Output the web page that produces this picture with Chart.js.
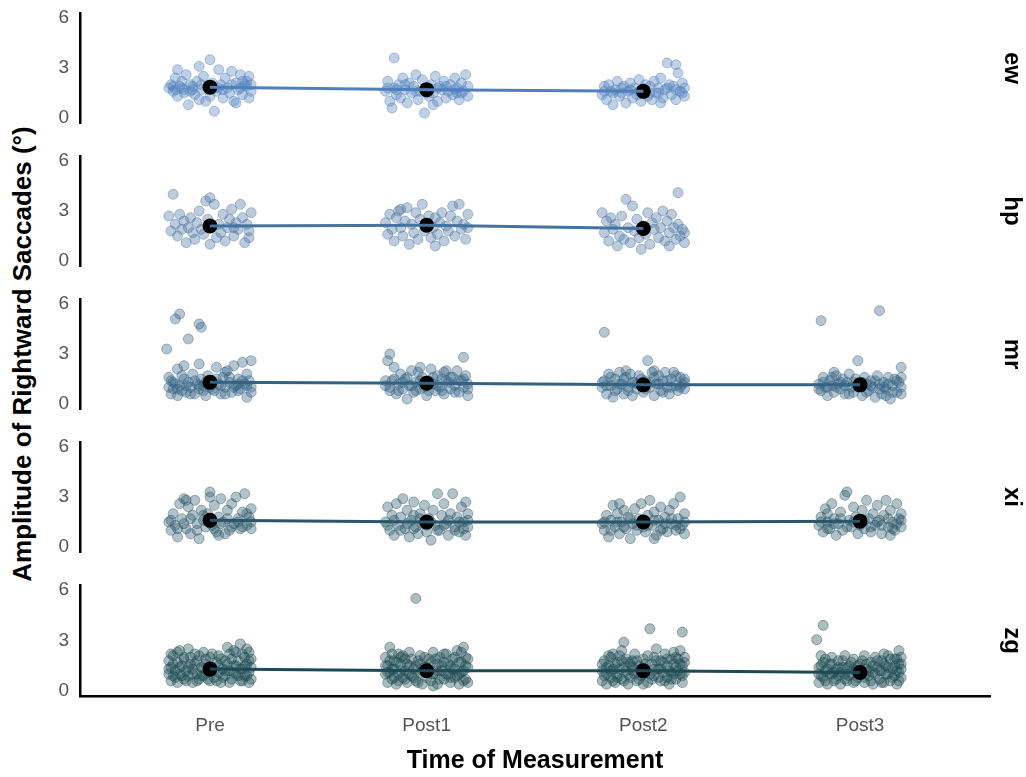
<!DOCTYPE html>
<html>
<head>
<meta charset="utf-8">
<script src="https://cdn.jsdelivr.net/npm/chart.js@4.4.1/dist/chart.umd.min.js"></script>
<style>
  body { margin: 0; background: #fff; }
  #wrap { position: relative; width: 1026px; height: 777px; overflow: hidden; font-family: 'Liberation Sans', Arial, sans-serif; }
  .panel { position: absolute; left: 0; width: 1026px; }
  #ytitle {
    position: absolute; left: 22px; top: 354px;
    transform: translate(-50%, -50%) rotate(-90deg);
    white-space: nowrap; font-weight: bold; font-size: 26px; color: #000;
  }
</style>
</head>
<body>
<div id="wrap">
  <div id="ytitle">Amplitude of Rightward Saccades (°)</div>
</div>
<script>
// Saccade amplitude per participant, faceted, jittered raw trials + means

const times = ['Pre', 'Post1', 'Post2', 'Post3'];
const subjects = ['ew', 'hp', 'mr', 'xi', 'zg'];
const yTicks = [0, 3, 6];

// group means (black dots + connecting line)
const ewMeans = [1.85, 1.7, 1.6];
const hpMeans = [2.1, 2.15, 1.95];
const mrMeans = [1.3, 1.25, 1.15, 1.15];
const xiMeans = [1.6, 1.5, 1.5, 1.55];
const zgMeans = [1.3, 1.2, 1.2, 1.1];

// single trials: [jitter offset from the time point, amplitude]
const ewPre = [[-0.19,1.8],[-0.18,2.0],[-0.17,1.6],[-0.16,2.4],[-0.15,2.9],[-0.15,1.3],[-0.14,1.9],[-0.13,2.2],[-0.12,1.7],[-0.12,1.5],[-0.11,2.6],[-0.10,0.8],[-0.09,2.0],[-0.08,1.9],[-0.07,1.4],[-0.06,2.2],[-0.05,3.1],[-0.05,1.1],[-0.04,1.7],[-0.03,2.5],[-0.02,1.0],[-0.01,1.9],[0.00,1.3],[0.00,3.5],[0.01,2.1],[0.02,0.4],[0.03,1.6],[0.04,2.9],[0.05,2.0],[0.06,1.2],[0.07,2.4],[0.08,1.8],[0.09,1.5],[0.10,2.8],[0.11,1.0],[0.12,2.1],[0.13,1.7],[0.14,2.6],[0.15,1.4],[0.16,2.0],[0.17,1.9],[0.18,2.5],[0.19,1.6],[0.18,1.2],[0.12,0.9],[-0.16,1.7],[-0.09,1.6],[0.04,1.8],[0.15,2.2],
  [-0.17,1.9],[-0.13,1.8],[-0.08,1.7],[-0.04,2.0],[0.02,1.8],[0.06,1.7],[0.10,2.0],[0.14,1.8],[0.17,2.2],[0.19,2.0]];
const ewPost1 = [[-0.19,1.6],[-0.18,2.2],[-0.17,1.0],[-0.16,0.6],[-0.15,1.8],[-0.15,3.6],[-0.14,1.4],[-0.13,2.0],[-0.12,1.2],[-0.11,2.4],[-0.10,1.7],[-0.09,0.9],[-0.08,2.1],[-0.07,1.5],[-0.06,1.9],[-0.05,2.6],[-0.04,1.1],[-0.03,1.6],[-0.02,2.3],[-0.01,0.3],[0.00,1.8],[0.01,1.3],[0.02,2.0],[0.03,1.5],[0.04,2.5],[0.05,1.0],[0.06,1.9],[0.07,1.7],[0.08,2.2],[0.09,1.2],[0.10,1.6],[0.11,2.0],[0.12,1.4],[0.13,2.4],[0.14,1.8],[0.15,1.1],[0.16,2.1],[0.17,1.6],[0.18,2.6],[0.19,1.3],[0.14,1.5],[0.03,0.8],
  [-0.18,1.8],[-0.14,1.7],[-0.10,2.0],[-0.05,1.6],[0.00,1.5],[0.05,1.8],[0.09,1.9],[0.13,1.7],[0.16,1.5],[0.19,1.9]];
const ewPost2 = [[-0.19,1.4],[-0.18,1.9],[-0.17,1.1],[-0.16,2.0],[-0.15,1.6],[-0.14,0.8],[-0.13,1.7],[-0.12,2.2],[-0.11,1.3],[-0.10,1.5],[-0.09,1.9],[-0.08,0.9],[-0.07,1.6],[-0.06,2.1],[-0.05,1.2],[-0.04,1.8],[-0.03,1.4],[-0.02,2.3],[-0.01,1.0],[0.00,1.7],[0.01,2.0],[0.02,1.3],[0.03,1.9],[0.04,1.1],[0.05,2.2],[0.06,1.5],[0.07,1.8],[0.08,2.4],[0.09,1.2],[0.10,1.7],[0.11,3.3],[0.12,2.0],[0.13,1.4],[0.14,1.9],[0.15,3.2],[0.15,1.1],[0.16,2.7],[0.17,1.6],[0.18,2.1],[0.19,1.8],[0.19,1.3],[0.08,0.9],
  [-0.18,1.6],[-0.14,1.5],[-0.10,1.8],[-0.06,1.7],[-0.02,1.6],[0.03,1.5],[0.07,1.5],[0.11,1.8],[0.15,1.7],[0.18,1.5]];

const hpPre = [[-0.19,2.7],[-0.18,1.8],[-0.17,4.0],[-0.16,2.2],[-0.15,1.5],[-0.14,2.8],[-0.13,1.9],[-0.12,2.4],[-0.11,1.1],[-0.10,2.0],[-0.09,2.6],[-0.08,1.7],[-0.07,1.3],[-0.06,2.3],[-0.05,3.0],[-0.04,1.9],[-0.03,1.6],[-0.02,3.6],[-0.01,2.5],[0.00,3.8],[0.00,1.0],[0.01,2.1],[0.02,3.4],[0.03,1.4],[0.04,2.2],[0.05,1.7],[0.06,2.8],[0.07,1.2],[0.08,2.0],[0.09,2.5],[0.10,3.1],[0.11,1.5],[0.12,2.3],[0.13,1.9],[0.14,3.4],[0.15,2.6],[0.16,1.1],[0.17,2.2],[0.18,1.8],[0.19,2.9],[0.18,1.4],[0.11,2.0]];
const hpPost1 = [[-0.19,2.3],[-0.18,1.6],[-0.17,2.8],[-0.16,1.9],[-0.15,1.2],[-0.14,2.6],[-0.13,3.0],[-0.12,2.0],[-0.11,1.5],[-0.10,2.4],[-0.09,3.2],[-0.08,1.0],[-0.07,2.2],[-0.06,1.7],[-0.05,2.9],[-0.04,1.3],[-0.03,2.5],[-0.02,3.4],[-0.01,1.8],[0.00,2.1],[0.01,2.7],[0.02,1.4],[0.03,2.0],[0.04,2.6],[0.05,1.6],[0.06,2.3],[0.07,2.9],[0.08,1.2],[0.09,2.1],[0.10,1.8],[0.11,2.7],[0.12,3.3],[0.13,1.5],[0.14,2.4],[0.15,3.4],[0.16,1.9],[0.17,2.2],[0.18,1.3],[0.19,2.8],[0.19,2.0],[0.04,0.9],[-0.12,3.1]];
const hpPost2 = [[-0.19,2.9],[-0.18,1.7],[-0.17,2.4],[-0.16,1.2],[-0.15,2.6],[-0.14,1.9],[-0.13,2.2],[-0.12,0.9],[-0.11,1.5],[-0.10,2.7],[-0.09,1.3],[-0.08,3.7],[-0.07,2.0],[-0.06,1.1],[-0.05,3.3],[-0.04,1.8],[-0.03,2.5],[-0.02,1.4],[-0.01,0.7],[0.00,2.1],[0.01,1.6],[0.02,2.9],[0.03,1.0],[0.04,2.3],[0.05,1.9],[0.06,2.6],[0.07,1.4],[0.08,2.0],[0.09,3.0],[0.10,1.2],[0.11,2.4],[0.12,1.7],[0.13,2.8],[0.14,2.0],[0.15,1.3],[0.16,4.1],[0.16,2.2],[0.17,1.5],[0.18,1.9],[0.19,1.7],[0.19,1.1],[0.12,0.9]];

const mrPre = [[-0.16,5.1],[-0.14,5.4],[-0.05,4.8],[-0.04,4.6],[-0.10,3.9],[-0.20,3.3],[-0.19,1.0],[-0.18,0.6],[-0.18,1.4],[-0.17,0.9],[-0.16,1.2],[-0.15,0.5],[-0.15,2.1],[-0.14,1.1],[-0.13,0.8],[-0.12,1.5],[-0.12,2.3],[-0.11,0.7],[-0.10,1.3],[-0.09,1.0],[-0.08,1.8],[-0.07,0.6],[-0.06,1.2],[-0.05,2.4],[-0.05,0.9],[-0.04,1.5],[-0.03,1.1],[-0.02,0.5],[-0.01,1.7],[0.00,1.0],[0.01,1.4],[0.02,0.8],[0.03,2.2],[0.04,1.2],[0.05,0.6],[0.06,1.6],[0.07,1.0],[0.08,2.0],[0.09,1.3],[0.10,0.7],[0.11,2.3],[0.12,1.1],[0.13,1.5],[0.14,0.9],[0.15,2.5],[0.16,1.2],[0.17,0.4],[0.18,1.4],[0.19,1.0],[0.19,2.6],[0.17,1.8],[0.07,1.9],[-0.02,1.3],[0.13,1.2],
  [-0.19,1.6],[-0.17,1.3],[-0.15,0.9],[-0.13,1.7],[-0.11,1.1],[-0.09,0.6],[-0.07,1.4],[-0.05,1.1],[-0.03,0.8],[-0.01,1.2],[0.01,0.9],[0.03,1.5],[0.05,1.1],[0.07,0.6],[0.09,1.6],[0.11,1.0],[0.13,0.8],[0.15,1.4],[0.17,1.1],[0.19,0.7]];
const mrPost1 = [[-0.19,1.1],[-0.18,2.6],[-0.17,3.0],[-0.17,0.8],[-0.16,1.4],[-0.15,2.2],[-0.14,0.6],[-0.13,1.2],[-0.12,1.8],[-0.11,0.9],[-0.10,1.5],[-0.09,0.3],[-0.08,1.1],[-0.07,2.0],[-0.06,0.7],[-0.05,1.3],[-0.04,1.9],[-0.03,0.9],[-0.02,1.6],[-0.01,1.0],[0.00,0.5],[0.01,1.4],[0.02,2.1],[0.03,1.2],[0.04,0.8],[0.05,1.7],[0.06,1.0],[0.07,1.5],[0.08,0.6],[0.09,2.0],[0.10,1.3],[0.11,0.9],[0.12,1.6],[0.13,1.1],[0.14,2.0],[0.15,0.7],[0.16,1.4],[0.17,2.8],[0.17,1.0],[0.18,1.7],[0.19,1.2],[0.19,0.5],[-0.03,2.2],[0.08,1.9],
  [-0.19,1.4],[-0.17,1.0],[-0.15,1.5],[-0.13,0.8],[-0.11,1.3],[-0.09,1.6],[-0.07,1.1],[-0.05,0.8],[-0.03,1.4],[-0.01,1.2],[0.01,0.8],[0.03,1.6],[0.05,1.1],[0.07,0.8],[0.09,1.4],[0.11,1.6],[0.13,0.7],[0.15,1.4],[0.17,1.5],[0.19,0.9]];
const mrPost2 = [[-0.19,1.0],[-0.18,4.3],[-0.18,1.4],[-0.17,0.6],[-0.16,1.8],[-0.15,1.1],[-0.14,0.4],[-0.13,1.5],[-0.12,0.9],[-0.11,1.9],[-0.10,1.2],[-0.09,0.6],[-0.08,1.6],[-0.07,1.0],[-0.06,1.8],[-0.05,0.5],[-0.04,1.3],[-0.03,0.9],[-0.02,1.7],[-0.01,1.1],[0.00,0.7],[0.01,1.4],[0.02,2.6],[0.03,1.0],[0.04,1.9],[0.05,0.5],[0.06,1.2],[0.07,1.7],[0.08,0.8],[0.09,1.4],[0.10,1.9],[0.11,1.0],[0.12,0.6],[0.13,1.5],[0.14,1.9],[0.15,1.1],[0.16,0.8],[0.17,1.6],[0.18,1.2],[0.19,0.9],[0.19,1.5],[0.05,2.0],[-0.08,2.0],
  [-0.19,1.3],[-0.17,1.1],[-0.15,1.6],[-0.13,0.8],[-0.11,1.2],[-0.09,1.5],[-0.07,0.8],[-0.05,1.3],[-0.03,1.2],[-0.01,1.5],[0.01,0.9],[0.03,1.3],[0.05,1.6],[0.07,1.2],[0.09,0.7],[0.11,1.4],[0.13,1.0],[0.15,1.7],[0.17,1.0],[0.19,1.3]];
const mrPost3 = [[-0.18,5.0],[0.09,5.6],[-0.01,2.6],[0.19,2.2],[-0.19,1.2],[-0.18,0.8],[-0.17,1.6],[-0.16,1.0],[-0.15,0.5],[-0.14,1.4],[-0.13,1.1],[-0.12,0.7],[-0.11,1.7],[-0.10,1.2],[-0.09,0.9],[-0.08,1.5],[-0.07,0.6],[-0.06,1.3],[-0.05,1.8],[-0.04,1.0],[-0.03,0.7],[-0.02,1.5],[0.00,1.1],[0.01,0.5],[0.02,1.6],[0.03,1.2],[0.04,0.8],[0.05,1.4],[0.06,1.0],[0.07,0.4],[0.08,1.7],[0.09,1.2],[0.10,0.6],[0.11,1.3],[0.12,0.9],[0.13,1.6],[0.14,0.3],[0.15,1.1],[0.16,1.5],[0.17,0.7],[0.18,1.3],[0.19,1.0],[0.19,1.6],[0.12,0.5],[-0.12,1.9],
  [-0.19,0.9],[-0.17,1.3],[-0.15,1.0],[-0.13,1.6],[-0.11,1.0],[-0.09,1.3],[-0.07,1.1],[-0.05,0.6],[-0.03,1.3],[-0.01,1.0],[0.01,1.3],[0.03,0.7],[0.05,1.1],[0.07,1.4],[0.09,0.9],[0.11,1.0],[0.13,1.2],[0.15,0.7],[0.17,1.4],[0.19,0.6]];

const xiPre = [[-0.19,1.5],[-0.18,1.0],[-0.17,2.0],[-0.16,1.3],[-0.15,0.6],[-0.14,2.6],[-0.13,1.7],[-0.12,2.9],[-0.11,1.1],[-0.10,2.4],[-0.09,0.8],[-0.08,1.9],[-0.07,2.8],[-0.06,1.4],[-0.05,0.5],[-0.04,2.2],[-0.03,1.6],[-0.02,1.2],[-0.01,2.0],[0.00,3.3],[0.00,3.0],[0.01,1.3],[0.02,2.5],[0.03,0.9],[0.04,1.8],[0.05,2.9],[0.06,1.5],[0.07,0.8],[0.08,2.2],[0.09,1.0],[0.10,2.6],[0.11,1.4],[0.12,3.0],[0.13,1.7],[0.14,1.1],[0.15,2.1],[0.16,3.2],[0.17,1.3],[0.18,1.8],[0.19,1.1],[0.19,2.3],[-0.11,2.8],[0.04,0.7],
  [-0.18,1.6],[-0.15,1.1],[-0.12,1.4],[-0.09,1.7],[-0.06,1.0],[-0.03,1.9],[0.00,1.5],[0.02,1.1],[0.05,1.4],[0.08,1.7],[0.10,1.2],[0.13,1.5],[0.15,1.2],[0.17,2.0],[0.19,1.5]];
const xiPost1 = [[-0.19,1.5],[-0.18,2.4],[-0.17,1.0],[-0.16,1.9],[-0.15,0.7],[-0.14,2.6],[-0.13,1.3],[-0.12,1.8],[-0.11,2.9],[-0.10,1.1],[-0.09,2.2],[-0.08,0.6],[-0.07,1.6],[-0.06,2.7],[-0.05,1.2],[-0.04,0.8],[-0.03,2.0],[-0.02,1.4],[-0.01,2.5],[0.00,0.9],[0.01,1.7],[0.02,0.4],[0.03,2.2],[0.04,1.3],[0.05,3.2],[0.06,1.0],[0.07,1.9],[0.08,2.6],[0.09,1.4],[0.10,0.7],[0.11,2.0],[0.12,3.2],[0.13,1.2],[0.14,1.8],[0.15,0.9],[0.16,2.4],[0.17,1.5],[0.18,0.7],[0.19,2.0],[0.19,1.2],[0.18,2.7],[-0.06,1.9],
  [-0.18,1.3],[-0.15,1.6],[-0.12,1.0],[-0.09,1.4],[-0.06,1.1],[-0.03,1.7],[0.00,1.3],[0.02,1.5],[0.05,1.0],[0.08,1.3],[0.10,1.6],[0.13,1.0],[0.15,1.5],[0.17,1.1],[0.19,1.6]];
const xiPost2 = [[-0.19,1.4],[-0.18,1.0],[-0.17,1.9],[-0.16,0.6],[-0.15,1.6],[-0.14,2.5],[-0.13,1.2],[-0.12,2.0],[-0.11,0.8],[-0.10,1.5],[-0.09,2.2],[-0.08,1.1],[-0.07,1.8],[-0.06,0.5],[-0.05,1.4],[-0.04,2.3],[-0.03,1.0],[-0.02,1.7],[-0.01,2.6],[0.00,1.2],[0.01,0.9],[0.02,1.9],[0.03,2.8],[0.04,1.3],[0.05,2.1],[0.06,0.7],[0.07,1.6],[0.08,2.4],[0.09,1.1],[0.10,1.8],[0.11,0.9],[0.12,2.2],[0.13,1.4],[0.14,2.6],[0.15,1.0],[0.16,1.7],[0.17,3.0],[0.18,1.3],[0.19,2.0],[0.19,0.8],[-0.11,2.6],[0.05,0.5],
  [-0.18,1.5],[-0.15,1.0],[-0.12,1.5],[-0.09,1.2],[-0.06,1.7],[-0.03,1.3],[0.00,1.6],[0.02,1.3],[0.05,1.6],[0.08,1.0],[0.10,1.4],[0.13,1.7],[0.15,1.3],[0.17,1.1],[0.19,1.5]];
const xiPost3 = [[-0.19,1.3],[-0.18,1.8],[-0.17,0.9],[-0.16,2.3],[-0.15,1.5],[-0.14,1.1],[-0.13,2.6],[-0.12,1.7],[-0.11,0.7],[-0.10,1.4],[-0.09,2.1],[-0.08,1.0],[-0.07,3.1],[-0.06,3.3],[-0.05,1.6],[-0.04,1.2],[-0.03,2.4],[-0.02,1.8],[-0.01,0.8],[0.00,1.5],[0.01,2.2],[0.02,1.1],[0.03,2.8],[0.04,1.7],[0.05,0.9],[0.06,2.0],[0.07,1.3],[0.08,2.5],[0.09,1.6],[0.10,0.8],[0.11,1.9],[0.12,2.8],[0.13,1.2],[0.14,2.2],[0.15,1.5],[0.16,1.0],[0.17,2.6],[0.18,1.7],[0.19,1.2],[0.19,2.0],[0.14,0.7],[-0.15,2.0],
  [-0.18,1.5],[-0.15,1.1],[-0.12,1.4],[-0.09,1.7],[-0.06,1.2],[-0.03,1.5],[0.00,1.3],[0.02,1.6],[0.05,1.2],[0.08,1.5],[0.10,1.3],[0.13,1.7],[0.15,1.1],[0.17,1.4],[0.19,1.6]];

const zgPre = [[-0.19,1.0],[-0.19,1.8],[-0.18,0.6],[-0.18,1.4],[-0.17,2.1],[-0.17,0.9],[-0.16,1.2],[-0.15,0.5],[-0.15,1.7],[-0.14,2.4],[-0.14,1.0],[-0.13,1.5],[-0.12,0.7],[-0.12,2.0],[-0.11,1.2],[-0.10,2.5],[-0.10,0.9],[-0.09,1.6],[-0.08,0.5],[-0.08,1.3],[-0.07,2.2],[-0.06,1.0],[-0.06,1.8],[-0.05,0.7],[-0.04,1.4],[-0.03,2.3],[-0.03,0.9],[-0.02,1.6],[-0.01,1.1],[0.00,0.6],[0.00,2.0],[0.01,1.4],[0.02,0.8],[0.03,1.7],[0.04,1.1],[0.04,2.1],[0.05,0.5],[0.06,1.3],[0.07,1.8],[0.07,0.9],[0.08,2.6],[0.09,1.2],[0.09,2.2],[0.10,0.7],[0.11,1.5],[0.11,2.4],[0.12,1.0],[0.13,1.8],[0.14,0.6],[0.14,2.8],[0.15,1.3],[0.16,2.0],[0.16,0.9],[0.17,1.6],[0.17,2.5],[0.18,1.1],[0.18,0.5],[0.19,1.9],[0.19,1.4],[0.12,2.3],
  [-0.19,1.3],[-0.18,2.2],[-0.17,1.6],[-0.16,0.8],[-0.15,2.3],[-0.14,1.4],[-0.13,0.9],[-0.12,1.9],[-0.11,0.6],[-0.10,1.4],[-0.09,2.0],[-0.08,1.0],[-0.07,1.6],[-0.06,0.6],[-0.05,2.1],[-0.04,0.9],[-0.03,1.3],[-0.02,1.9],[-0.01,0.7],[0.01,2.2],[0.02,1.2],[0.03,0.6],[0.04,1.5],[0.05,1.9],[0.06,0.8],[0.07,1.2],[0.08,1.6],[0.09,0.5],[0.10,1.9],[0.11,1.1],[0.12,1.5],[0.13,0.9],[0.14,1.3],[0.15,2.2],[0.16,1.5],[0.17,0.9],[0.18,1.8],[0.19,0.7],[0.18,2.3],[0.15,0.6]];
const zgPost1 = [[-0.05,5.5],[-0.19,1.0],[-0.19,2.0],[-0.18,0.5],[-0.18,1.5],[-0.17,2.6],[-0.17,1.1],[-0.16,0.7],[-0.15,1.8],[-0.15,1.3],[-0.14,0.4],[-0.13,2.2],[-0.13,1.0],[-0.12,1.6],[-0.11,0.8],[-0.10,1.9],[-0.10,1.2],[-0.09,0.5],[-0.08,1.5],[-0.08,2.3],[-0.07,0.9],[-0.06,1.3],[-0.05,0.6],[-0.04,1.8],[-0.03,1.1],[-0.03,2.1],[-0.02,0.4],[-0.01,1.4],[0.00,0.8],[0.01,1.9],[0.01,1.2],[0.02,0.6],[0.03,2.3],[0.04,1.0],[0.05,1.6],[0.05,0.4],[0.06,2.0],[0.07,1.2],[0.08,0.7],[0.08,1.7],[0.09,2.2],[0.10,1.0],[0.11,0.5],[0.11,1.5],[0.12,1.9],[0.13,0.8],[0.13,1.3],[0.14,2.4],[0.15,1.0],[0.15,0.4],[0.16,1.7],[0.17,2.6],[0.17,1.2],[0.18,0.7],[0.18,2.0],[0.19,1.4],[0.19,0.5],[-0.12,2.0],[0.03,0.3],
  [-0.19,1.5],[-0.18,1.1],[-0.17,1.8],[-0.16,1.3],[-0.15,0.8],[-0.14,1.7],[-0.13,0.6],[-0.12,1.2],[-0.11,2.1],[-0.10,0.7],[-0.09,1.6],[-0.08,1.0],[-0.07,1.9],[-0.06,0.8],[-0.05,1.5],[-0.04,0.5],[-0.03,1.6],[-0.02,1.2],[-0.01,2.0],[0.00,1.4],[0.02,1.7],[0.03,1.0],[0.04,1.9],[0.05,1.2],[0.06,0.7],[0.07,1.5],[0.08,2.2],[0.09,1.0],[0.10,1.6],[0.11,0.8],[0.12,1.3],[0.13,2.0],[0.14,0.9],[0.15,1.7],[0.16,1.1],[0.17,0.6],[0.18,1.5],[0.19,1.9],[0.16,2.3],[-0.16,2.2]];
const zgPost2 = [[0.03,3.7],[0.18,3.5],[-0.09,2.9],[-0.10,2.4],[0.06,2.5],[-0.19,1.2],[-0.19,0.6],[-0.18,1.8],[-0.17,1.0],[-0.17,0.4],[-0.16,1.5],[-0.15,2.0],[-0.15,0.8],[-0.14,1.3],[-0.13,0.5],[-0.12,1.7],[-0.12,1.0],[-0.11,2.1],[-0.10,0.7],[-0.09,1.4],[-0.08,1.9],[-0.07,1.0],[-0.07,0.4],[-0.06,1.6],[-0.05,1.2],[-0.04,2.2],[-0.03,0.6],[-0.02,1.5],[-0.01,0.9],[0.00,1.9],[0.01,1.2],[0.02,0.5],[0.04,1.6],[0.05,0.9],[0.05,2.0],[0.07,1.3],[0.08,0.6],[0.08,1.8],[0.09,1.1],[0.10,2.2],[0.11,0.8],[0.11,1.5],[0.12,0.4],[0.13,1.9],[0.13,1.1],[0.14,2.3],[0.15,0.7],[0.15,1.4],[0.16,1.9],[0.17,1.0],[0.17,2.4],[0.18,0.5],[0.18,1.5],[0.19,1.1],[0.19,2.0],[-0.14,2.2],[0.00,0.4],[-0.05,1.8],
  [-0.19,1.6],[-0.18,0.9],[-0.17,1.4],[-0.16,2.1],[-0.15,1.2],[-0.14,0.6],[-0.13,1.6],[-0.12,0.8],[-0.11,1.3],[-0.10,1.8],[-0.09,0.6],[-0.08,1.2],[-0.07,1.7],[-0.06,0.8],[-0.05,1.4],[-0.04,1.0],[-0.03,1.8],[-0.02,0.7],[-0.01,1.3],[0.00,1.0],[0.01,1.6],[0.02,2.1],[0.03,1.0],[0.04,0.7],[0.05,1.3],[0.06,1.8],[0.07,0.8],[0.08,1.3],[0.09,1.7],[0.10,0.6],[0.11,1.9],[0.12,1.2],[0.13,0.7],[0.14,1.6],[0.15,2.0],[0.16,1.2],[0.17,1.6],[0.18,0.9],[0.19,1.7],[0.14,1.0]];
const zgPost3 = [[-0.17,3.9],[-0.20,3.05],[0.18,2.4],[-0.19,1.0],[-0.19,0.5],[-0.18,1.5],[-0.17,0.8],[-0.16,1.9],[-0.16,1.2],[-0.15,0.4],[-0.14,1.6],[-0.13,1.0],[-0.13,2.0],[-0.12,0.6],[-0.11,1.3],[-0.10,0.9],[-0.10,1.8],[-0.09,0.4],[-0.08,1.4],[-0.07,1.0],[-0.07,2.1],[-0.06,0.6],[-0.05,1.5],[-0.04,1.1],[-0.03,0.5],[-0.03,1.9],[-0.02,1.2],[-0.01,0.8],[0.00,1.6],[0.01,1.0],[0.02,2.1],[0.02,0.5],[0.03,1.3],[0.04,0.9],[0.05,1.7],[0.06,1.1],[0.06,0.4],[0.07,2.0],[0.08,1.4],[0.09,0.7],[0.10,1.2],[0.10,1.8],[0.11,0.5],[0.12,1.5],[0.13,1.0],[0.13,2.1],[0.14,0.6],[0.15,1.3],[0.16,0.9],[0.16,1.9],[0.17,1.2],[0.17,0.4],[0.18,1.6],[0.19,0.8],[0.19,1.3],[0.19,2.0],[0.11,2.2],[-0.18,2.1],
  [-0.19,1.4],[-0.18,0.9],[-0.17,1.7],[-0.16,0.6],[-0.15,1.3],[-0.14,1.0],[-0.13,1.6],[-0.12,1.1],[-0.11,0.7],[-0.10,1.4],[-0.09,1.1],[-0.08,1.8],[-0.07,0.7],[-0.06,1.4],[-0.05,0.9],[-0.04,1.7],[-0.03,1.3],[-0.02,0.6],[-0.01,1.5],[0.00,1.1],[0.01,1.8],[0.02,0.8],[0.03,1.6],[0.04,1.2],[0.05,0.6],[0.06,1.5],[0.07,1.0],[0.08,1.8],[0.09,1.2],[0.10,0.5],[0.11,1.6],[0.12,1.0],[0.13,1.4],[0.14,1.9],[0.15,0.8],[0.16,1.5],[0.17,1.9],[0.18,1.1],[0.19,1.6],[0.18,0.6]];

const panels = [
  { groups: [ewPre, ewPost1, ewPost2], means: ewMeans, color: [79, 128, 189] },
  { groups: [hpPre, hpPost1, hpPost2], means: hpMeans, color: [68, 115, 159] },
  { groups: [mrPre, mrPost1, mrPost2, mrPost3], means: mrMeans, color: [51, 98, 131] },
  { groups: [xiPre, xiPost1, xiPost2, xiPost3], means: xiMeans, color: [41, 86, 106] },
  { groups: [zgPre, zgPost1, zgPost2, zgPost3], means: zgMeans, color: [29, 74, 84] },
];

Chart.defaults.font.family = "'Liberation Sans', Arial, sans-serif";

const PANEL_TOP = 13;     // top of first panel area
const PANEL_STEP = 143;
const PANEL_H = 110;
const PAD = 12;           // >= half a tick label, so the labels don't shrink the panel
const X_AXIS_LINE = 696;

function rgba(c, a) { return `rgba(${c[0]},${c[1]},${c[2]},${a})`; }

function buildPanel(p, i) {
  const last = i === panels.length - 1;
  const top = PANEL_TOP + PANEL_STEP * i - PAD;
  const height = last ? 777 - top : PANEL_H + 2 * PAD;

  const div = document.createElement('div');
  div.className = 'panel';
  div.style.top = top + 'px';
  div.style.height = height + 'px';
  const canvas = document.createElement('canvas');
  canvas.width = 1026;
  canvas.height = height;
  div.appendChild(canvas);
  document.getElementById('wrap').appendChild(div);

  const datasets = [];
  // mean line on top, then mean dots, then raw trials
  datasets.push({
    type: 'line',
    data: p.means.map((m, t) => ({ x: t + 1, y: m })),
    borderColor: rgba(p.color, 1),
    borderWidth: 3,
    pointRadius: 0,
    fill: false,
    tension: 0,
    order: 0,
  });
  datasets.push({
    data: p.means.map((m, t) => ({ x: t + 1, y: m })),
    backgroundColor: '#000',
    borderWidth: 0,
    pointRadius: 7.5,
    order: 1,
  });
  p.groups.forEach((g, t) => {
    datasets.push({
      data: g.map(([dx, y]) => ({ x: t + 1 + dx, y })),
      backgroundColor: rgba(p.color, 0.36),
      borderColor: rgba(p.color, 0.42),
      borderWidth: 1,
      pointRadius: 5,
      order: 2 + t,
    });
  });

  return new Chart(canvas, {
    type: 'scatter',
    data: { datasets },
    options: {
      responsive: false,
      animation: false,
      events: [],
      layout: {
        autoPadding: false,
        padding: { top: PAD, bottom: last ? 0 : PAD, left: 0, right: 0 },
      },
      plugins: { legend: { display: false }, tooltip: { enabled: false } },
      scales: {
        x: {
          type: 'linear',
          min: 0.4,
          max: 4.6,
          display: last,
          grid: { display: false, drawTicks: false },
          border: { display: true, color: '#000', width: 2.5 },
          afterBuildTicks: (s) => { s.ticks = times.map((_, k) => ({ value: k + 1 })); },
          afterFit: (s) => { if (last) s.height = 777 - X_AXIS_LINE; },
          ticks: {
            padding: 18,
            color: '#555',
            font: { size: 19 },
            callback: (v) => times[v - 1] ?? '',
          },
          title: {
            display: true,
            text: 'Time of Measurement',
            color: '#000',
            font: { size: 25, weight: 'bold' },
            padding: { top: 0, bottom: 1 },
          },
        },
        y: {
          type: 'linear',
          position: 'left',
          min: -0.3,
          max: 6.3,
          // invisible tick marks give the label gap (ticks.padding would also pad the panel)
          grid: { display: true, drawOnChartArea: false, drawTicks: true, tickLength: 11, color: 'rgba(0,0,0,0)' },
          border: { display: true, color: '#000', width: 2.5 },
          afterBuildTicks: (s) => { s.ticks = yTicks.map((v) => ({ value: v })); },
          afterFit: (s) => { s.width = 80; },
          ticks: { padding: 0, color: '#555', font: { size: 19 } },
        },
        facet: {
          type: 'linear',
          position: 'right',
          grid: { display: false, drawTicks: false },
          border: { display: false },
          ticks: { display: false },
          afterFit: (s) => { s.width = 36; },
          title: {
            display: true,
            text: subjects[i],
            color: '#000',
            font: { size: 24, weight: 'bold' },
            padding: { top: 0, bottom: 0 },
          },
        },
      },
    },
  });
}

panels.forEach(buildPanel);
</script>
</body>
</html>
